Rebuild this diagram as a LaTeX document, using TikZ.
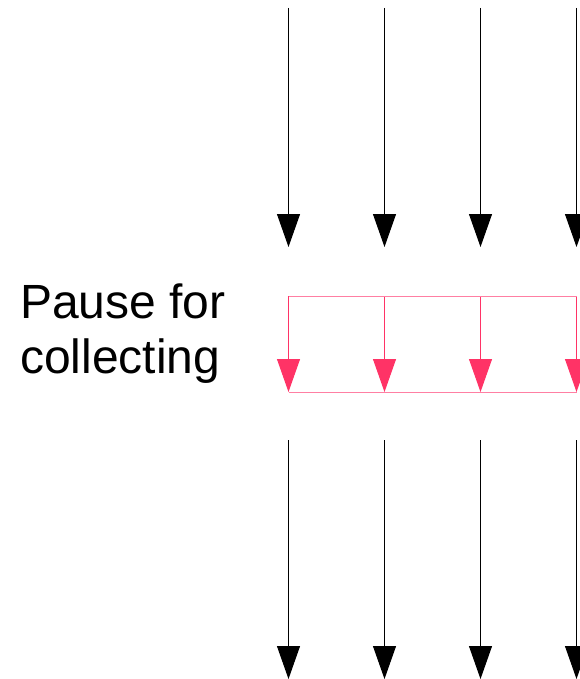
\documentclass[tikz,border=0pt]{standalone}
\usepackage{fontspec}
\setmainfont{Liberation Sans}
\usetikzlibrary{arrows.meta}
\definecolor{pinkdark}{HTML}{FF3366}
\definecolor{pinklight}{HTML}{FF7FA3}
\tikzset{
  blackarrow/.style={draw=black, line width=1pt, -{Triangle[width=23pt,length=33pt]}},
  pinkarrow/.style={draw=pinkdark, line width=1pt, -{Triangle[width=23pt,length=33pt]}},
  frameline/.style={draw=pinklight, line width=1pt},
  label/.style={inner sep=0pt, anchor=base west, font=\fontsize{48}{55}\selectfont}
}
\begin{document}
\begin{tikzpicture}[x=1pt,y=-1pt]
\useasboundingbox (0,0) rectangle (579,679);
\foreach \i/\x in {1/288.5,2/384.5,3/480.5,4/576.5}{
  \coordinate (ts\i) at (\x,8);
  \coordinate (te\i) at (\x,247);
  \coordinate (ps\i) at (\x,296);
  \coordinate (pe\i) at (\x,392);
  \coordinate (bs\i) at (\x,440);
  \coordinate (be\i) at (\x,679);
  \draw[blackarrow] (ts\i) -- (te\i);
  \draw[pinkarrow] (ps\i) -- (pe\i);
  \draw[blackarrow] (bs\i) -- (be\i);
}
\draw[frameline] (ps1) -- (ps4);
\draw[frameline] (pe1) -- (pe4);
\node[label] (l1) at (20,318) {Pause for};
\node[label] (l2) at (20,373) {collecting};
\end{tikzpicture}
\end{document}
